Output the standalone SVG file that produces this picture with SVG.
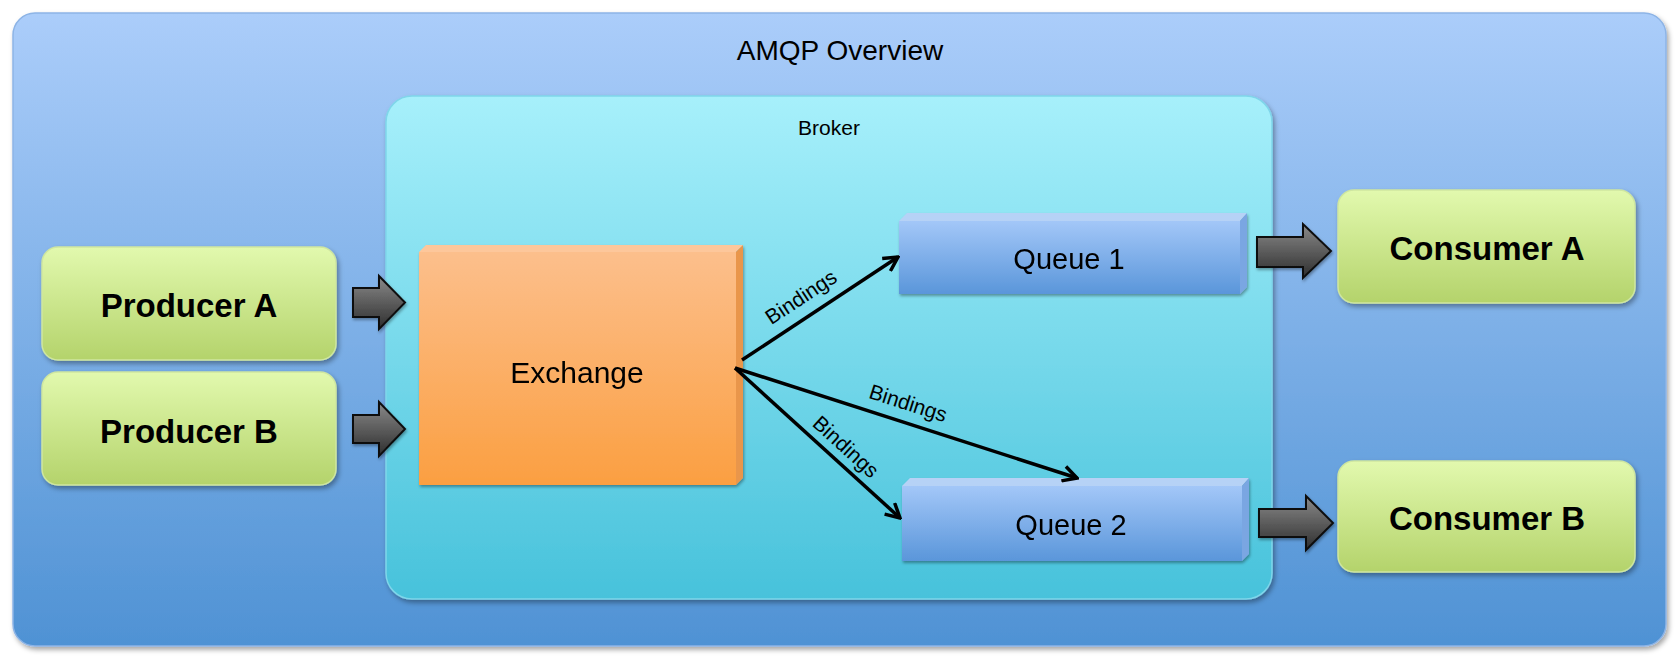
<svg xmlns="http://www.w3.org/2000/svg" width="1678" height="666" viewBox="0 0 1678 666">
<defs>
<style>
text{font-family:"Liberation Sans",Arial,sans-serif;fill:#000}
.title{font-size:28px;text-anchor:middle}
.small{font-size:21px;text-anchor:middle}
.node{font-size:33px;font-weight:bold;text-anchor:middle}
.box{font-size:29px;text-anchor:middle}
.bind{font-size:21px;text-anchor:middle}
.green{fill:url(#gGreen);stroke:#cfe6a0;stroke-width:1.5}
.blk{fill:url(#gBlock);stroke:#111;stroke-width:2;stroke-linejoin:miter}
.bl{stroke:#000;stroke-width:3.5;fill:none}
</style>
<linearGradient id="gOuter" x1="0" y1="0" x2="0" y2="1"><stop offset="0" stop-color="#abcdfa"/><stop offset="1" stop-color="#4f92d4"/></linearGradient>
<linearGradient id="gBroker" x1="0" y1="0" x2="0" y2="1"><stop offset="0" stop-color="#a7f0fb"/><stop offset="1" stop-color="#47c2db"/></linearGradient>
<linearGradient id="gGreen" x1="0" y1="0" x2="0" y2="1"><stop offset="0" stop-color="#e2f9ae"/><stop offset="1" stop-color="#b4d36b"/></linearGradient>
<linearGradient id="gOrange" x1="0" y1="0" x2="0" y2="1"><stop offset="0" stop-color="#fcbf8c"/><stop offset="1" stop-color="#fb9f41"/></linearGradient>
<linearGradient id="gBlue" x1="0" y1="0" x2="0" y2="1"><stop offset="0" stop-color="#a3c7f8"/><stop offset="1" stop-color="#5a96da"/></linearGradient>
<linearGradient id="gBlock" x1="0" y1="0" x2="0" y2="1"><stop offset="0" stop-color="#8a8a8a"/><stop offset="1" stop-color="#2e2e2e"/></linearGradient>
<filter id="sh" x="-10%" y="-10%" width="125%" height="130%"><feDropShadow dx="2" dy="3" stdDeviation="2.5" flood-color="#000" flood-opacity="0.35"/></filter>
<filter id="shs" x="-10%" y="-10%" width="130%" height="130%"><feDropShadow dx="1" dy="2" stdDeviation="1.5" flood-color="#000" flood-opacity="0.35"/></filter>
<marker id="open" viewBox="0 0 18 18" refX="16" refY="9" markerWidth="18" markerHeight="18" markerUnits="userSpaceOnUse" orient="auto"><path d="M2,1.5 L16,9 L2,16.5" fill="none" stroke="#000" stroke-width="3.5"/></marker>
</defs>

<g id="amqp-overview">
<rect x="13" y="13" width="1653" height="633" rx="22" fill="url(#gOuter)" stroke="#8db4e6" stroke-width="1.5" filter="url(#sh)"/>
<text class="title" x="840" y="60">AMQP Overview</text>
</g>

<g id="broker">
<rect x="386" y="96" width="886" height="503" rx="26" fill="url(#gBroker)" stroke="#7fd6ea" stroke-width="1.5" filter="url(#sh)"/>
<text class="small" x="829" y="135">Broker</text>
</g>

<g id="producer-a">
<rect class="green" x="42" y="247" width="294" height="113" rx="16" filter="url(#sh)"/>
<text class="node" x="189" y="317">Producer A</text>
</g>

<g id="producer-b">
<rect class="green" x="42" y="372" width="294" height="113" rx="16" filter="url(#sh)"/>
<text class="node" x="189" y="443">Producer B</text>
</g>

<g id="exchange" filter="url(#shs)">
<rect x="419" y="252" width="317" height="233" fill="url(#gOrange)"/>
<polygon points="419,252 426,245 743,245 736,252" fill="#fdc79b"/>
<polygon points="736,252 743,245 743,478 736,485" fill="#e9964c"/>
<text class="box" x="577" y="383" style="font-size:30px">Exchange</text>
</g>

<g id="queue-1" filter="url(#shs)">
<rect x="899" y="221" width="341" height="73" fill="url(#gBlue)"/>
<polygon points="899,221 907,213 1247,213 1240,221" fill="#b6d2f6"/>
<polygon points="1240,221 1247,213 1247,287 1240,294" fill="#7aa6e2"/>
<text class="box" x="1069" y="269">Queue 1</text>
</g>

<g id="queue-2" filter="url(#shs)">
<rect x="902" y="486" width="340" height="75" fill="url(#gBlue)"/>
<polygon points="902,486 910,478 1249,478 1242,486" fill="#b6d2f6"/>
<polygon points="1242,486 1249,478 1249,554 1242,561" fill="#7aa6e2"/>
<text class="box" x="1071" y="535">Queue 2</text>
</g>

<g id="consumer-a">
<rect class="green" x="1338" y="190" width="297" height="113" rx="16" filter="url(#sh)"/>
<text class="node" x="1487" y="260">Consumer A</text>
</g>

<g id="consumer-b">
<rect class="green" x="1338" y="461" width="297" height="111" rx="16" filter="url(#sh)"/>
<text class="node" x="1487" y="530">Consumer B</text>
</g>

<g id="connectors">
<path class="blk" filter="url(#shs)" d="M353,288 L379,288 L379,276 L405,302.5 L379,329 L379,317 L353,317 Z"/>
<path class="blk" filter="url(#shs)" d="M353,415 L379,415 L379,402 L405,429 L379,456 L379,443 L353,443 Z"/>
<path class="blk" filter="url(#shs)" d="M1257,237 L1303,237 L1303,224 L1331,251 L1303,278 L1303,267 L1257,267 Z"/>
<path class="blk" filter="url(#shs)" d="M1259,509 L1306,509 L1306,496 L1333,523 L1306,550 L1306,537 L1259,537 Z"/>

<line class="bl" x1="742" y1="360" x2="898" y2="257" marker-end="url(#open)"/>
<line class="bl" x1="735" y1="368" x2="1077" y2="478" marker-end="url(#open)"/>
<line class="bl" x1="735" y1="368" x2="900" y2="518" marker-end="url(#open)"/>

<text class="bind" transform="translate(805,303) rotate(-33.4)">Bindings</text>
<text class="bind" transform="translate(906,410) rotate(17.8)">Bindings</text>
<text class="bind" transform="translate(841,452) rotate(42.3)">Bindings</text>
</g>
</svg>
